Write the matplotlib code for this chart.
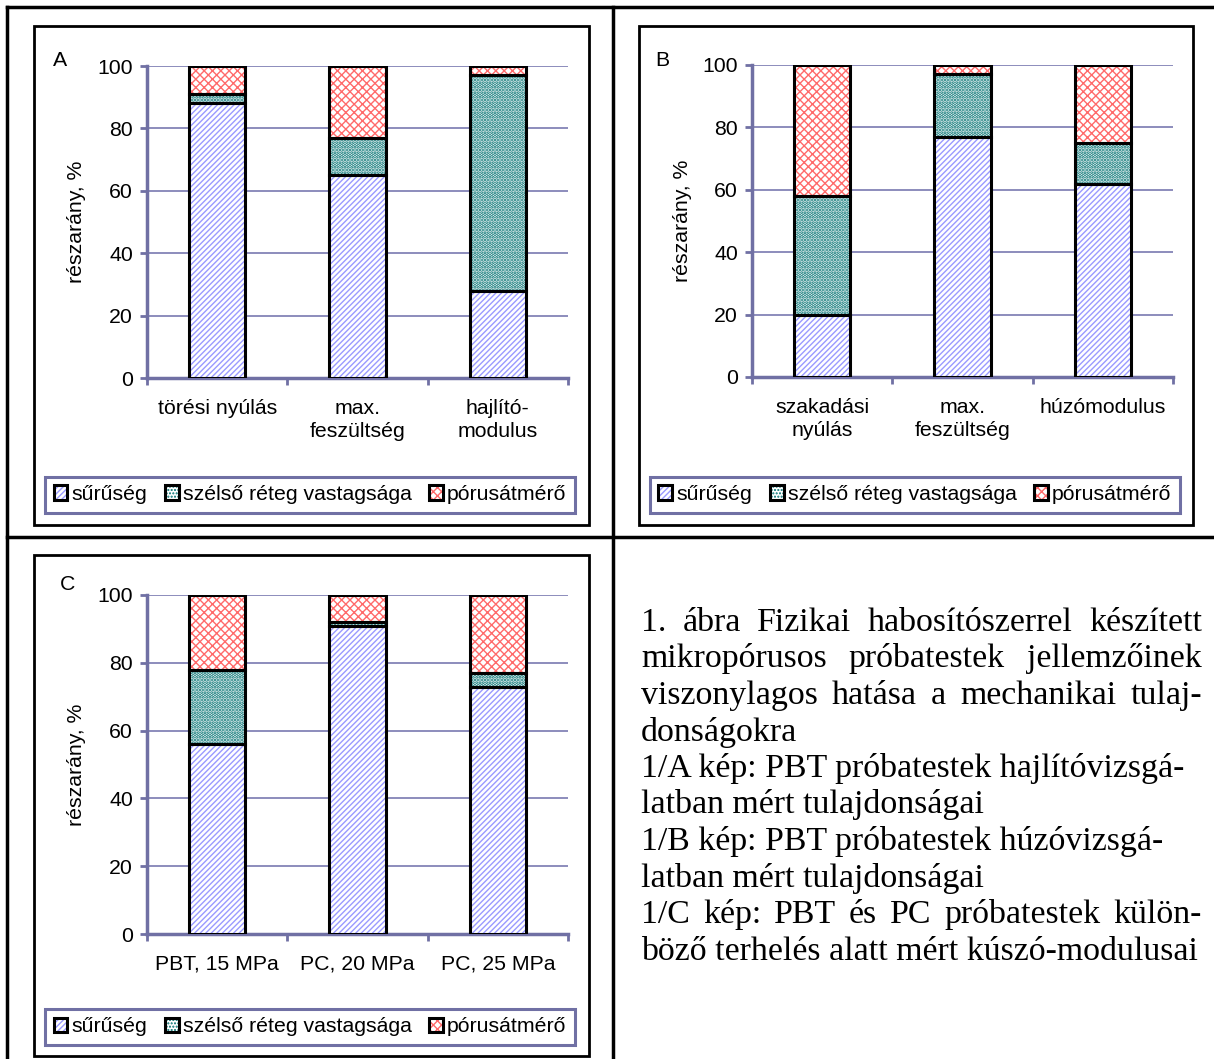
import matplotlib
matplotlib.use("Agg")
import matplotlib.pyplot as plt
from matplotlib.patches import Rectangle, Patch
from matplotlib.lines import Line2D
import numpy as np

plt.rcParams['font.family'] = ['Liberation Sans', 'DejaVu Sans']
plt.rcParams['hatch.linewidth'] = 1.0

# ---------------- data ----------------
series_names = ["sűrűség", "szélső réteg vastagsága", "pórusátmérő"]

cats_A = ["törési nyúlás", "max.\nfeszültség", "hajlító-\nmodulus"]
suruseg_A = [88, 65, 28]
szelso_A = [3, 12, 69]
porus_A = [9, 23, 3]

cats_B = ["szakadási\nnyúlás", "max.\nfeszültség", "húzómodulus"]
suruseg_B = [20, 77, 62]
szelso_B = [38, 20, 13]
porus_B = [42, 3, 25]

cats_C = ["PBT, 15 MPa", "PC, 20 MPa", "PC, 25 MPa"]
suruseg_C = [56, 91, 73]
szelso_C = [22, 1, 4]
porus_C = [22, 8, 23]

yticks = [0, 20, 40, 60, 80, 100]
ylabel = "részarány, %"

caption_lines = [
    "1. ábra Fizikai habosítószerrel készített",
    "mikropórusos próbatestek jellemzőinek",
    "viszonylagos hatása a mechanikai tulaj-",
    "donságokra",
    "1/A kép: PBT próbatestek hajlítóvizsgá-",
    "latban mért tulajdonságai",
    "1/B kép: PBT próbatestek húzóvizsgá-",
    "latban mért tulajdonságai",
    "1/C kép: PBT és PC próbatestek külön-",
    "böző terhelés alatt mért kúszó-modulusai",
]
caption_justify = [True, True, True, False, False, False, False, False, True, False]

# ---------------- styles ----------------
W, H = 1214, 1059
fig = plt.figure(figsize=(W / 100, H / 100), dpi=100)
fig.patch.set_facecolor('white')

AXC = '#7070a4'
GRIDC = '#8c8cbc'
hatch_colors = ['#9a9aff', '#007070', '#ff6a6a']
hatches = ['//////', '.....', 'xxxx']
hatch_lws = [1.0, 1.8, 1.0]
FS = 15.3


def px_axes(x0, y0, x1, y1):
    return fig.add_axes([x0 / W, 1 - y1 / H, (x1 - x0) / W, (y1 - y0) / H])


def fig_rect(x0, y0, x1, y1, color='black', lw=2.0):
    fig.add_artist(Rectangle((x0 / W, 1 - y1 / H), (x1 - x0) / W, (y1 - y0) / H,
                             transform=fig.transFigure, fill=False,
                             edgecolor=color, linewidth=lw))


def fig_line(xs, ys, lw=2.5):
    fig.add_artist(Line2D([x / W for x in xs], [1 - y / H for y in ys],
                          transform=fig.transFigure, color='black', linewidth=lw))


def panel(axbox, frame, legbox, letter, letter_xy, cats, s1, s2, s3):
    fig_rect(*frame)
    ax = px_axes(*axbox)
    x = np.arange(len(cats))
    bottoms = np.zeros(len(cats))
    for vals, hc, h, hl in zip([s1, s2, s3], hatch_colors, hatches, hatch_lws):
        vals = np.array(vals, dtype=float)
        with plt.rc_context({'hatch.linewidth': hl}):
            ax.bar(x, vals, bottom=bottoms, width=0.4, color='white', edgecolor=hc,
                   hatch=h, linewidth=0, zorder=3)
        ax.bar(x, vals, bottom=bottoms, width=0.4, fill=False, edgecolor='black',
               linewidth=2.2, zorder=4)
        bottoms = bottoms + vals
    ax.set_xlim(-0.5, len(cats) - 0.5)
    ax.set_ylim(0, 100)
    ax.set_yticks(yticks)
    ax.set_xticks(np.arange(len(cats) + 1) - 0.5)
    ax.set_xticklabels([])
    ax.set_xticks(x, minor=True)
    ax.set_xticklabels(cats, minor=True, fontsize=FS, linespacing=1.3)
    ax.tick_params(axis='x', which='minor', length=0, pad=15)
    ax.tick_params(axis='x', which='major', length=5, width=2, color=AXC,
                   direction='out')
    ax.tick_params(axis='y', length=5, width=2, color=AXC, direction='out',
                   labelsize=FS, pad=5)
    for s in ['top', 'right']:
        ax.spines[s].set_visible(False)
    for s in ['left', 'bottom']:
        ax.spines[s].set_color(AXC)
        ax.spines[s].set_linewidth(2.5)
    ax.yaxis.grid(True, color=GRIDC, linewidth=1.4, zorder=0)
    ax.set_axisbelow(True)
    ax.set_ylabel(ylabel, fontsize=FS, labelpad=8)
    fig.text(letter_xy[0] / W, 1 - letter_xy[1] / H, letter, fontsize=FS,
             ha='center', va='center')
    # legend
    handles = []
    for hc, h, hl in zip(hatch_colors, hatches, hatch_lws):
        with plt.rc_context({'hatch.linewidth': hl}):
            p1 = Patch(facecolor='white', edgecolor=hc, hatch=h, linewidth=0)
        p2 = Patch(fill=False, edgecolor='black', linewidth=2.2)
        handles.append((p1, p2))
    lx0, ly0, lx1, ly1 = legbox
    leg = fig.legend(handles, series_names, loc='center',
                     bbox_to_anchor=(lx0 / W, 1 - ly1 / H, (lx1 - lx0) / W, (ly1 - ly0) / H),
                     bbox_transform=fig.transFigure,
                     mode='expand', ncol=3, fontsize=FS, frameon=True, fancybox=False,
                     edgecolor=AXC, framealpha=1, borderaxespad=0,
                     handlelength=0.65, handleheight=0.65, handletextpad=0.2,
                     borderpad=0.4, columnspacing=0.5)
    leg.get_frame().set_linewidth(2.2)
    return ax


panel((147, 66, 568, 378), (34, 26, 589, 525), (45, 475, 575, 514),
      "A", (60, 60), cats_A, suruseg_A, szelso_A, porus_A)
panel((752, 65, 1173, 377), (639, 26, 1193, 525), (650, 475, 1180, 514),
      "B", (662, 61), cats_B, suruseg_B, szelso_B, porus_B)
panel((147, 595, 568, 934), (34, 555, 589, 1056), (45, 1007, 575, 1047),
      "C", (68, 584), cats_C, suruseg_C, szelso_C, porus_C)

# table lines
fig_line([7, 1214], [7, 7])
fig_line([7, 7], [7, 1059])
fig_line([613, 613], [7, 1059])
fig_line([7, 1214], [537, 537])

# caption text
fig.canvas.draw()
renderer = fig.canvas.get_renderer()
x_left, x_right = 641, 1202
base0, step = 631, 36.5
cfs = 24.4
for i, (line, just) in enumerate(zip(caption_lines, caption_justify)):
    yb = 1 - (base0 + i * step) / H
    if not just:
        fig.text(x_left / W, yb, line, fontsize=cfs, family='Liberation Serif',
                 ha='left', va='baseline')
        continue
    words = line.split(' ')
    ts = [fig.text(0, yb, w, fontsize=cfs, family='Liberation Serif',
                   ha='left', va='baseline') for w in words]
    widths = [t.get_window_extent(renderer).width for t in ts]
    gap = (x_right - x_left - sum(widths)) / (len(words) - 1)
    xpos = x_left
    for t, wd in zip(ts, widths):
        t.set_x(xpos / W)
        xpos += wd + gap

fig.savefig("out.png", dpi=100, facecolor='white')
